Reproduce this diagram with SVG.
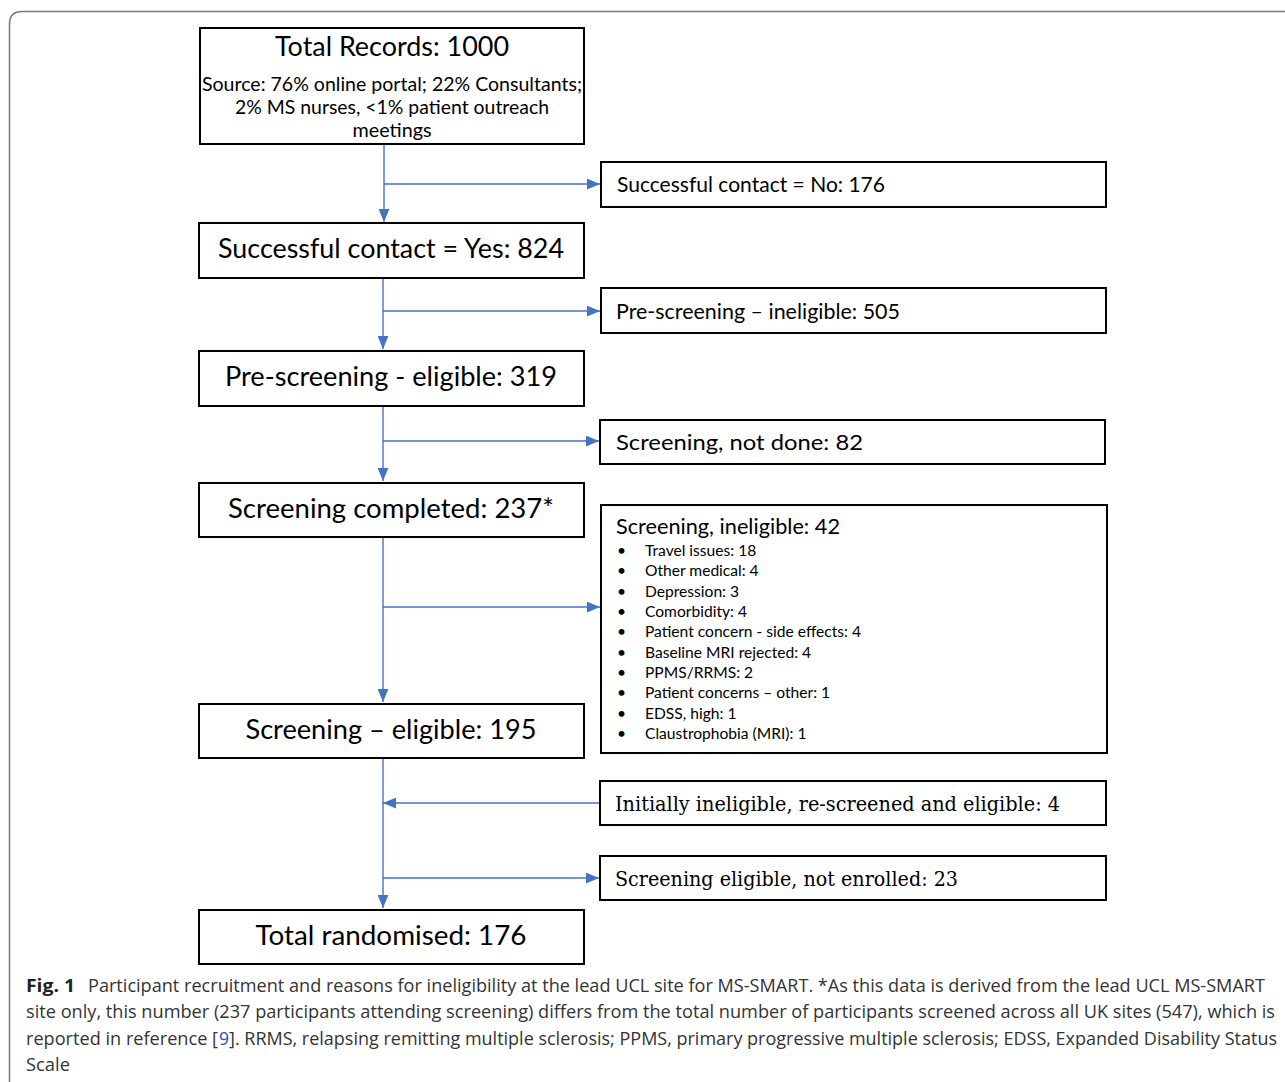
<svg xmlns="http://www.w3.org/2000/svg" width="1285" height="1082" viewBox="0 0 1285 1082">
<style>
.box{fill:#fff;stroke:#000;stroke-width:2}
.t{font-family:Lato,"Open Sans","Liberation Sans",sans-serif;fill:#000}
.s{font-family:"DejaVu Serif","Liberation Serif",serif;fill:#000}
.c{stroke:#4472C4;stroke-width:1.4;fill:none}
.cap{font-family:"Open Sans","Liberation Sans",sans-serif;fill:#333;font-size:17.5px}
.cap.b{font-weight:bold;fill:#222}
.cap.link{fill:#1a4fd6}
</style>
<defs>
<marker id="ah" viewBox="0 0 12 10" refX="12" refY="5" markerWidth="13" markerHeight="11" markerUnits="userSpaceOnUse" orient="auto">
<path d="M0,0 L12,5 L0,10 Z" fill="#4472C4"/>
</marker>
</defs>
<rect width="1285" height="1082" fill="#fff"/>
<path d="M1300,11.5 H22 Q9.5,11.5 9.5,24 V1090" fill="none" stroke="#777" stroke-width="1.5"/>

<g id="connectors">
<path class="c" d="M384,144 V222" marker-end="url(#ah)"/>
<path class="c" d="M384,184 H600" marker-end="url(#ah)"/>
<path class="c" d="M383,278 V349" marker-end="url(#ah)"/>
<path class="c" d="M383,311 H600" marker-end="url(#ah)"/>
<path class="c" d="M383,406 V481" marker-end="url(#ah)"/>
<path class="c" d="M383,441 H599" marker-end="url(#ah)"/>
<path class="c" d="M383,537 V702" marker-end="url(#ah)"/>
<path class="c" d="M383,607 H600" marker-end="url(#ah)"/>
<path class="c" d="M383,758 V908" marker-end="url(#ah)"/>
<path class="c" d="M599,803 H383" marker-end="url(#ah)"/>
<path class="c" d="M383,878 H599" marker-end="url(#ah)"/>
</g>

<g id="n-total-records">
<rect class="box" x="200" y="28" width="384" height="116"/>
<text class="t" x="392" y="56" font-size="27" text-anchor="middle" textLength="234" lengthAdjust="spacingAndGlyphs">Total Records: 1000</text>
<text class="t" x="392" y="91" font-size="19" text-anchor="middle" textLength="380" lengthAdjust="spacingAndGlyphs">Source: 76% online portal; 22% Consultants;</text>
<text class="t" x="392" y="114" font-size="19" text-anchor="middle" textLength="314" lengthAdjust="spacingAndGlyphs">2% MS nurses, &lt;1% patient outreach</text>
<text class="t" x="392" y="137" font-size="19" text-anchor="middle" textLength="79" lengthAdjust="spacingAndGlyphs">meetings</text>
</g>

<g id="n-contact-no">
<rect class="box" x="601" y="162" width="505" height="45"/>
<text class="t" x="617" y="192" font-size="21" textLength="268" lengthAdjust="spacingAndGlyphs">Successful contact = No: 176</text>
</g>

<g id="n-contact-yes">
<rect class="box" x="199" y="223" width="385" height="55"/>
<text class="t" x="391" y="258" font-size="27" text-anchor="middle" textLength="346" lengthAdjust="spacingAndGlyphs">Successful contact = Yes: 824</text>
</g>

<g id="n-prescreen-inel">
<rect class="box" x="601" y="288" width="505" height="45"/>
<text class="t" x="616" y="319" font-size="21" textLength="284" lengthAdjust="spacingAndGlyphs">Pre-screening – ineligible: 505</text>
</g>

<g id="n-prescreen-el">
<rect class="box" x="199" y="351" width="385" height="55"/>
<text class="t" x="391" y="386" font-size="27" text-anchor="middle" textLength="332" lengthAdjust="spacingAndGlyphs">Pre-screening - eligible: 319</text>
</g>

<g id="n-screen-notdone">
<rect class="box" x="600" y="420" width="505" height="44"/>
<text class="t" x="616" y="450" font-size="22" textLength="247" lengthAdjust="spacingAndGlyphs">Screening, not done: 82</text>
</g>

<g id="n-screen-completed">
<rect class="box" x="199" y="483" width="385" height="54"/>
<text class="t" x="391" y="518" font-size="27" text-anchor="middle" textLength="326" lengthAdjust="spacingAndGlyphs">Screening completed: 237*</text>
</g>

<g id="n-screen-inel">
<rect class="box" x="601" y="505" width="506" height="248"/>
<text class="t" x="616" y="534" font-size="21" textLength="224" lengthAdjust="spacingAndGlyphs">Screening, ineligible: 42</text>
<g class="t" font-size="15.6">
<text x="617" y="556">•</text><text x="645" y="556">Travel issues: 18</text>
<text x="617" y="576">•</text><text x="645" y="576">Other medical: 4</text>
<text x="617" y="597">•</text><text x="645" y="597">Depression: 3</text>
<text x="617" y="617">•</text><text x="645" y="617">Comorbidity: 4</text>
<text x="617" y="637">•</text><text x="645" y="637">Patient concern - side effects: 4</text>
<text x="617" y="658">•</text><text x="645" y="658">Baseline MRI rejected: 4</text>
<text x="617" y="678">•</text><text x="645" y="678">PPMS/RRMS: 2</text>
<text x="617" y="698">•</text><text x="645" y="698">Patient concerns – other: 1</text>
<text x="617" y="719">•</text><text x="645" y="719">EDSS, high: 1</text>
<text x="617" y="739">•</text><text x="645" y="739">Claustrophobia (MRI): 1</text>
</g>
</g>

<g id="n-screen-el">
<rect class="box" x="199" y="704" width="385" height="54"/>
<text class="t" x="391" y="739" font-size="27" text-anchor="middle" textLength="291" lengthAdjust="spacingAndGlyphs">Screening – eligible: 195</text>
</g>

<g id="n-rescreened">
<rect class="box" x="600" y="781" width="506" height="44"/>
<text class="s" x="615" y="811" font-size="21" textLength="445" lengthAdjust="spacingAndGlyphs">Initially ineligible, re-screened and eligible: 4</text>
</g>

<g id="n-not-enrolled">
<rect class="box" x="600" y="856" width="506" height="44"/>
<text class="s" x="615" y="886" font-size="21" textLength="343" lengthAdjust="spacingAndGlyphs">Screening eligible, not enrolled: 23</text>
</g>

<g id="n-randomised">
<rect class="box" x="199" y="910" width="385" height="54"/>
<text class="t" x="391" y="945" font-size="27" text-anchor="middle" textLength="271" lengthAdjust="spacingAndGlyphs">Total randomised: 176</text>
</g>

<g id="caption">
<text class="cap b" x="26" y="992" textLength="49" lengthAdjust="spacingAndGlyphs">Fig. 1</text>
<text class="cap" x="88" y="992" textLength="1177" lengthAdjust="spacingAndGlyphs">Participant recruitment and reasons for ineligibility at the lead UCL site for MS-SMART. *As this data is derived from the lead UCL MS-SMART</text>
<text class="cap" x="26" y="1018" textLength="1249" lengthAdjust="spacingAndGlyphs">site only, this number (237 participants attending screening) differs from the total number of participants screened across all UK sites (547), which is</text>
<text class="cap" x="26" y="1045" textLength="192" lengthAdjust="spacingAndGlyphs">reported in reference [</text>
<text class="cap link" x="219" y="1045">9</text>
<text class="cap" x="229" y="1045" textLength="1048" lengthAdjust="spacingAndGlyphs">]. RRMS, relapsing remitting multiple sclerosis; PPMS, primary progressive multiple sclerosis; EDSS, Expanded Disability Status</text>
<text class="cap" x="26" y="1071" textLength="44" lengthAdjust="spacingAndGlyphs">Scale</text>
</g>
</svg>
